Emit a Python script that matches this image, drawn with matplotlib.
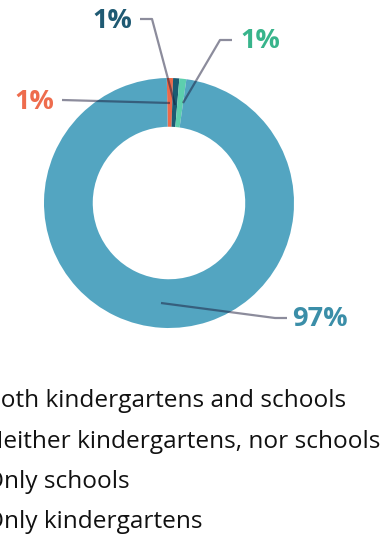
import matplotlib
matplotlib.use("Agg")
import matplotlib.pyplot as plt

plt.rcParams['font.family'] = ['Open Sans', 'DejaVu Sans']

# slice order clockwise from the top
categories = ["Only kindergartens", "Only schools",
              "Neither kindergartens, nor schools", "Both kindergartens and schools"]
values = [0.8, 0.8, 0.9, 97.5]
pct_labels = ["1%", "1%", "1%", "97%"]
legend_labels = ["Both kindergartens and schools", "Neither kindergartens, nor schools",
                 "Only schools", "Only kindergartens"]

colors = ['#ec6a4b', '#1b5b72', '#5dcfae', '#53a5c1']
label_colors = ['#ee6c4d', '#1f5a73', '#38b48b', '#3b8ea8']

W, H = 387, 541
fig = plt.figure(figsize=(W / 100, H / 100), dpi=100)

# pie centre at (169, 203) px, radius 125 px
cx, cy, r = 169, 203, 125
ax = fig.add_axes([(cx - r) / W, (H - cy - r) / H, 2 * r / W, 2 * r / H])
ax.pie(values, colors=colors, startangle=91, counterclock=False,
       radius=1, wedgeprops=dict(width=0.39, linewidth=0))
ax.set_xlim(-1, 1)
ax.set_ylim(-1, 1)
ax.set_aspect('equal')
ax.axis('off')


def px(x, y):
    return ((x - cx) / r, (cy - y) / r)


# leader lines (pixel coords) and label positions
leaders = [
    [(170, 103), (62, 100)],
    [(175, 105), (152, 19), (140, 19)],
    [(183, 103), (220, 40), (232, 40)],
    [(161, 303), (275, 318), (287, 318)],
]
label_pos = [(34, 102, 'center'), (112, 21, 'center'), (260, 41, 'center'), (292, 319, 'left')]

for pts, (lx, ly, ha), txt, c in zip(leaders, label_pos, pct_labels, label_colors):
    xs = [px(*p)[0] for p in pts]
    ys = [px(*p)[1] for p in pts]
    ax.plot(xs, ys, color='#1a1a3a', alpha=0.5, lw=1.6, solid_capstyle='butt', clip_on=False)
    tx, ty = px(lx, ly)
    ax.text(tx, ty, txt, color=c, fontsize=19.5, fontweight='bold', ha=ha, va='center')

# legend text (markers fall off the left edge)
for i, lab in enumerate(legend_labels):
    fig.text(-15.5 / W, 1 - (401 + 40.5 * i) / H, lab, fontsize=17.6, color='#111111',
             ha='left', va='center')

fig.savefig('out.png', dpi=100)
